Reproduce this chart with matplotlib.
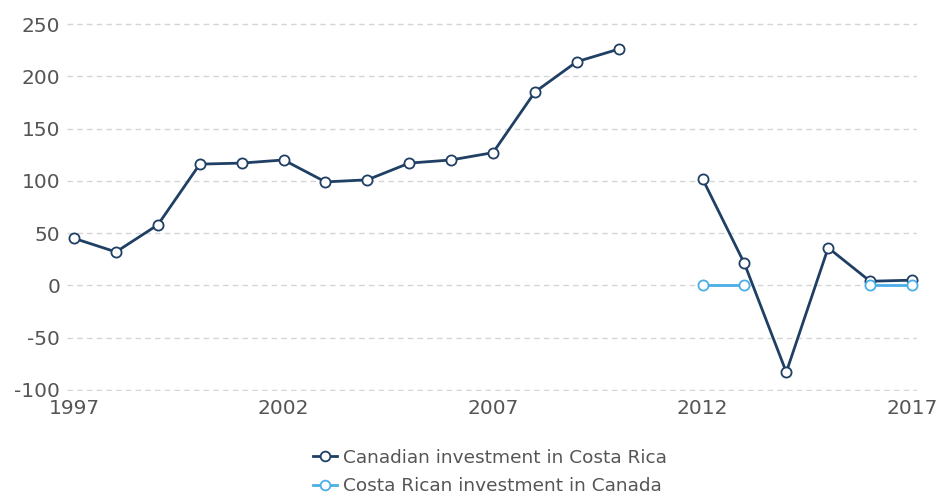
import numpy as np
import matplotlib
matplotlib.use("Agg")
import matplotlib.pyplot as plt
from matplotlib.lines import Line2D

plt.rcParams['axes.unicode_minus'] = False

years = list(range(1997, 2018))
canadian = [45, 32, 58, 116, 117, 120, 99, 101, 117, 120, 127, 185, 214, 226,
            None, 102, 21, -83, 36, 4, 5]
costa_rican = [None]*15 + [0.5, 0.5, None, None, 0.5, 0.5]

series_names = ["Canadian investment in Costa Rica", "Costa Rican investment in Canada"]
colors = ["#203f64", "#4aaee8"]

def arr(v):
    return np.array([np.nan if x is None else x for x in v], dtype=float)

fig = plt.figure(figsize=(9.41, 4.94), dpi=100)
ax = fig.add_axes([67/941, 1-391/494, (917-67)/941, (391-23)/494])

for vals, col in zip([canadian, costa_rican], colors):
    ax.plot(years, arr(vals), color=col, lw=2.0, marker='o', ms=7.3,
            mfc='white', mec=col, mew=1.3, zorder=3, clip_on=False)

ax.set_ylim(-101, 251)
ax.set_xlim(1996.83, 2017.12)
ax.set_yticks(range(-100, 251, 50))
ax.set_xticks([1997, 2002, 2007, 2012, 2017])
ax.grid(axis='y', color='#d5d5d5', ls=(0, (4, 3)), lw=1)
ax.grid(axis='x', visible=False)
for s in ax.spines.values():
    s.set_visible(False)
ax.tick_params(length=0, labelsize=14.5, labelcolor='#555555')
ax.tick_params(axis='y', pad=5)
ax.tick_params(axis='x', pad=6)

handles = [Line2D([], [], color=c, lw=2, marker='o', ms=7, mfc='white', mec=c, mew=1.3)
           for c in colors]
fig.legend(handles, series_names, loc='center', bbox_to_anchor=(490/941, 1-472/494),
           frameon=False, fontsize=13.3, labelcolor='#555555', handlelength=1.3,
           handletextpad=0.3, labelspacing=0.55, borderpad=0)

fig.savefig("out.png", dpi=100)
